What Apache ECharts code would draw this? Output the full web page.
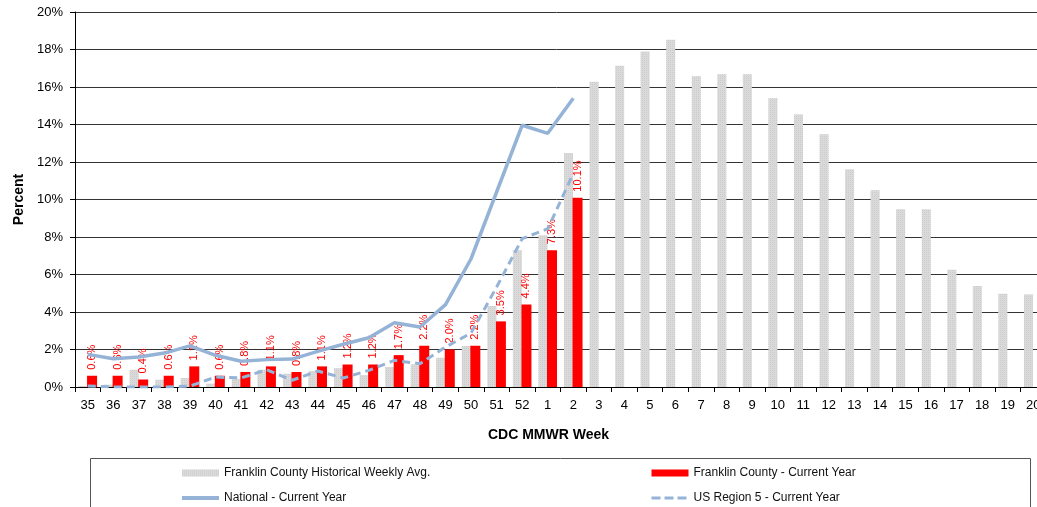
<!DOCTYPE html>
<html>
<head>
<meta charset="utf-8">
<script src="https://cdn.jsdelivr.net/npm/echarts@6/dist/echarts.min.js"></script>
<style>html,body{margin:0;padding:0;background:#fff;}#c{width:1037px;height:507px;}</style>
</head>
<body>
<div id="c"></div>
<script>
const weeks = ['35','36','37','38','39','40','41','42','43','44','45','46','47','48','49','50','51','52','1','2','3','4','5','6','7','8','9','10','11','12','13','14','15','16','17','18','19','20'];
const historical = [0.05,0.12,0.92,0.39,0.48,0.18,0.43,0.92,0.71,0.85,1.0,0.64,1.07,1.21,1.56,2.19,4.32,7.29,8.09,12.48,16.28,17.14,17.9,18.52,16.57,16.68,16.68,15.4,14.54,13.48,11.61,10.49,9.48,9.48,6.26,5.39,4.98,4.94];
const franklinCurrent = [0.6,0.6,0.4,0.6,1.1,0.6,0.8,1.1,0.8,1.1,1.2,1.2,1.7,2.2,2.0,2.2,3.5,4.4,7.3,10.1];
const national = [1.74,1.51,1.6,1.81,2.19,1.69,1.37,1.46,1.49,1.9,2.28,2.63,3.43,3.2,4.39,6.84,10.4,13.96,13.53,15.4];
const region5 = [0.05,0,0,0,0.05,0.53,0.48,0.92,0.36,0.85,0.48,0.89,1.42,1.24,2.13,2.88,5.33,7.91,8.44,11.38];
const yTicks = [0,2,4,6,8,10,12,14,16,18,20];

const FONT = '"Liberation Sans", Arial, sans-serif';
const chart = echarts.init(document.getElementById('c'), null, {renderer:'canvas'});
const legendText = {fontFamily: FONT, fontSize: 12, color: '#111'};
chart.setOption({
  animation: false,
  backgroundColor: '#fff',
  textStyle: {fontFamily: FONT},
  grid: {left: 75, top: 12, width: 971, height: 375, containLabel: false, outerBoundsMode: 'none'},
  graphic: [{
    type: 'rect', shape: {x: 90.5, y: 458.5, width: 940, height: 60},
    style: {fill: 'none', stroke: '#555', lineWidth: 1}, z: 0
  }],
  legend: [{
    left: 180, top: 467, orient: 'vertical', itemGap: 13, itemWidth: 37, itemHeight: 7, padding: 0,
    textStyle: legendText,
    data: [
      {name: 'Franklin County Historical Weekly Avg.', icon: 'rect'},
      {name: 'National - Current Year', itemStyle: {opacity: 0}, lineStyle: {width: 4, color: '#95b3d7'}}
    ]
  },{
    left: 650, top: 467, orient: 'vertical', itemGap: 13, itemWidth: 37, itemHeight: 7, padding: 0,
    textStyle: legendText,
    data: [
      {name: 'Franklin County - Current Year', icon: 'rect'},
      {name: 'US Region 5 - Current Year', itemStyle: {opacity: 0}, lineStyle: {width: 3, color: '#95b3d7', type: [9,4]}}
    ]
  }],
  xAxis: {
    type: 'category', data: weeks,
    name: 'CDC MMWR Week', nameLocation: 'middle', nameGap: 41,
    nameTextStyle: {fontFamily: FONT, fontSize: 14, fontWeight: 'bold', color: '#000', padding: [0, 24, 0, 0]},
    axisLine: {lineStyle: {color: '#000', width: 1}},
    axisTick: {show: true, alignWithLabel: false, length: 5, lineStyle: {color: '#000'}},
    axisLabel: {fontFamily: FONT, fontSize: 13, color: '#000', margin: 12, interval: 0}
  },
  yAxis: {
    type: 'value', min: 0, max: 20, interval: 2,
    name: 'Percent', nameLocation: 'middle', nameGap: 48,
    nameTextStyle: {fontFamily: FONT, fontSize: 14, fontWeight: 'bold', color: '#000'},
    axisLine: {show: true, lineStyle: {color: '#000', width: 1}},
    axisTick: {show: true, length: 5, lineStyle: {color: '#000'}},
    axisLabel: {fontFamily: FONT, fontSize: 13, color: '#000', margin: 12,
      formatter: v => yTicks.includes(v) ? v + '%' : ''},
    splitLine: {show: true, lineStyle: {color: '#333', width: 1}}
  },
  series: [{
    name: 'Franklin County Historical Weekly Avg.', type: 'bar', data: historical,
    barWidth: 9, barGap: '-5%',
    itemStyle: {color: '#dadada',
      decal: {symbol: 'rect', symbolSize: 1, dashArrayX: [1,1], dashArrayY: [1,1], color: 'rgba(200,200,200,0.8)', rotation: 0}},
    z: 2
  },{
    name: 'Franklin County - Current Year', type: 'bar', data: franklinCurrent,
    barWidth: 10, itemStyle: {color: '#ff0000'},
    label: {show: true, position: 'top', rotate: 90, align: 'left', verticalAlign: 'middle', distance: 6,
      fontFamily: FONT, fontSize: 11, color: '#ff0000', formatter: p => p.value.toFixed(1) + '%'},
    z: 3
  },{
    name: 'National - Current Year', type: 'line', data: national,
    symbol: 'none', smooth: false,
    lineStyle: {color: '#95b3d7', width: 3.5}, itemStyle: {color: '#95b3d7'}, z: 4
  },{
    name: 'US Region 5 - Current Year', type: 'line', data: region5,
    symbol: 'none', smooth: false,
    lineStyle: {color: '#95b3d7', width: 3, type: [8,5]}, itemStyle: {color: '#95b3d7'}, z: 4
  }]
});
</script>
</body>
</html>
